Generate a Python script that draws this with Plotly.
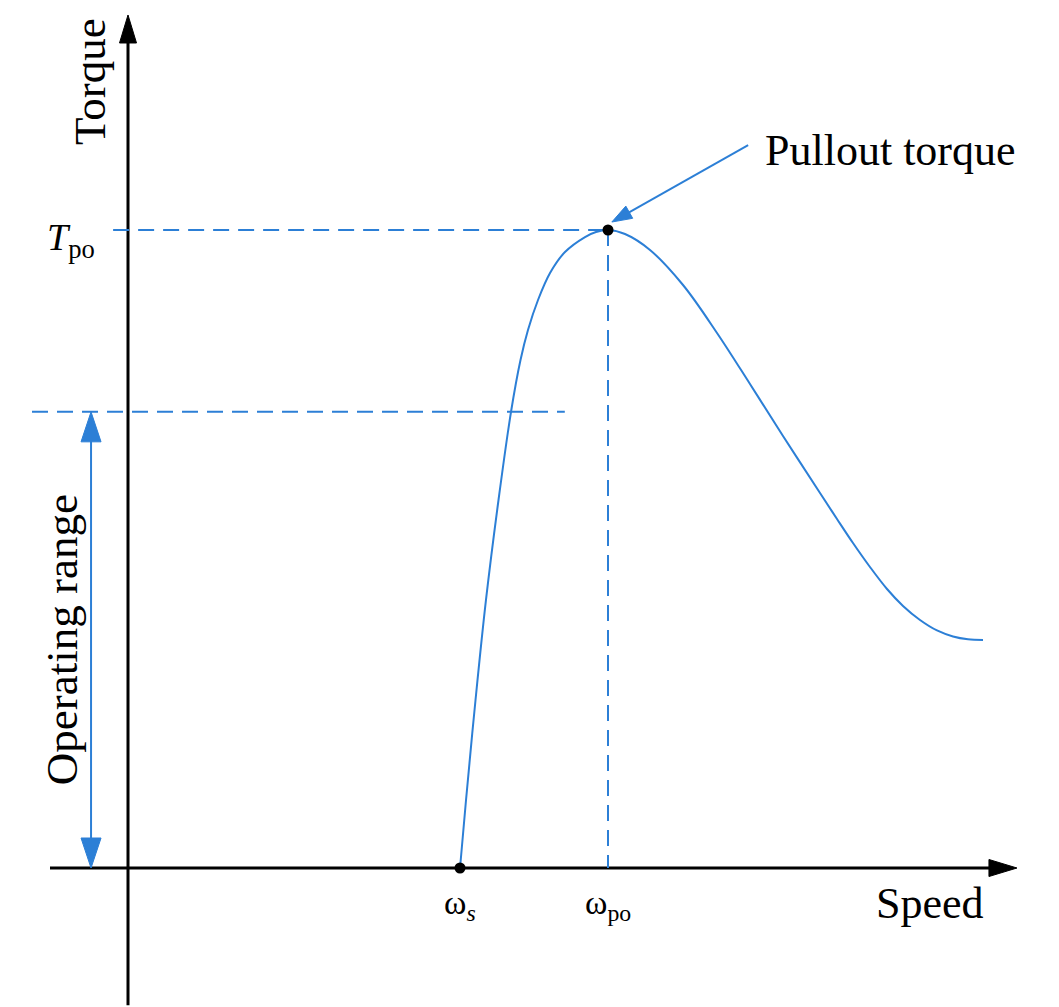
import plotly.graph_objects as go

# ---------------- data (normalised units: speed / omega_po, torque / T_po) ----------------
speed = [0.6917, 0.7042, 0.7240, 0.7458, 0.7719, 0.7979, 0.8177, 0.8333, 0.8542, 0.8792,
         0.9104, 0.9521, 0.9750, 1.0,
         1.0354, 1.0875, 1.1563, 1.2271, 1.2958, 1.3646, 1.4417, 1.4771, 1.5104, 1.5458,
         1.5813, 1.6146, 1.65, 1.6854, 1.7188, 1.75, 1.7813]
torque = [0.0, 0.1066, 0.2633, 0.4201, 0.5768, 0.7147, 0.7962, 0.8433, 0.8903, 0.9326,
          0.9655, 0.9890, 0.9969, 1.0,
          0.9937, 0.9687, 0.9138, 0.8386, 0.7586, 0.6771, 0.5878, 0.5470, 0.5094, 0.4718,
          0.4373, 0.4107, 0.3887, 0.3723, 0.3629, 0.3585, 0.3574]

omega_s = 0.6917
omega_po = 1.0
T_po = 1.0
op_range_top = 0.715

# axis extents
x_axis_ext = [-0.1625, 1.852]
y_axis_ext = [-0.215, 1.337]

# ---------------- layout geometry ----------------
W, H = 1059, 1007
PX_X, PX_Y = 480.0, 638.0          # pixels per unit
X_RANGE = [-128 / PX_X, (W - 128) / PX_X]
Y_RANGE = [-(H - 868) / PX_Y, 868 / PX_Y]

BLUE = "#2c7fd6"
BLACK = "#000000"
FONT = "Liberation Serif"


def arrowhead(tip, base_from, length, width):
    """triangle polygon (data coords) with tip at `tip`, pointing away from base_from"""
    tx, ty = tip[0] * PX_X, tip[1] * PX_Y
    bx, by = base_from[0] * PX_X, base_from[1] * PX_Y
    dx, dy = tx - bx, ty - by
    n = (dx * dx + dy * dy) ** 0.5
    ux, uy = dx / n, dy / n
    px_, py_ = -uy, ux
    cx, cy = tx - ux * length, ty - uy * length
    pts = [(tx, ty), (cx + px_ * width / 2, cy + py_ * width / 2),
           (cx - px_ * width / 2, cy - py_ * width / 2), (tx, ty)]
    return [p[0] / PX_X for p in pts], [p[1] / PX_Y for p in pts]


fig = go.Figure()


def line(xs, ys, color, width, dash=None):
    fig.add_trace(go.Scatter(x=xs, y=ys, mode="lines", hoverinfo="skip",
                             line=dict(color=color, width=width, dash=dash)))


def head(tip, frm, length, width, color):
    hx, hy = arrowhead(tip, frm, length, width)
    fig.add_trace(go.Scatter(x=hx, y=hy, mode="lines", fill="toself", fillcolor=color,
                             line=dict(color=color, width=1), hoverinfo="skip"))


# axes
line([0, 0], [y_axis_ext[0], y_axis_ext[1] - 20 / PX_Y], BLACK, 3)
head((0, y_axis_ext[1]), (0, 0), 28, 17, BLACK)
line([x_axis_ext[0], x_axis_ext[1] - 20 / PX_X], [0, 0], BLACK, 3)
head((x_axis_ext[1], 0), (0, 0), 28, 17, BLACK)

# dashed guides
DASH = "16px,9px"
line([-0.031, omega_po], [T_po, T_po], BLUE, 2, DASH)
line([omega_po, omega_po], [T_po, 0], BLUE, 2, DASH)
line([-0.2, 0.910], [op_range_top, op_range_top], BLUE, 2, DASH)

# operating range double arrow
op_x = -0.077
line([op_x, op_x], [op_range_top - 20 / PX_Y, 20 / PX_Y], BLUE, 2)
head((op_x, op_range_top), (op_x, 0), 30, 20, BLUE)
head((op_x, 0), (op_x, op_range_top), 30, 20, BLUE)

# torque-speed curve
fig.add_trace(go.Scatter(x=speed, y=torque, mode="lines",
                         line=dict(color=BLUE, width=2, shape="spline", smoothing=1.0),
                         hoverinfo="skip"))

# points
fig.add_trace(go.Scatter(x=[omega_s, omega_po], y=[0, T_po], mode="markers",
                         marker=dict(color=BLACK, size=11), hoverinfo="skip"))

# pullout arrow
p_from = (1.292, 1.133)
p_tip = (1.008, 1.0125)
line([p_from[0], p_tip[0] + (p_from[0] - p_tip[0]) * 0.12], [p_from[1], p_tip[1] + (p_from[1] - p_tip[1]) * 0.12],
     BLUE, 2)
head(p_tip, p_from, 20, 14, BLUE)

ann = []


def text(x, y, s, size, angle=0, xanchor="center", yanchor="middle"):
    ann.append(dict(x=x, y=y, xref="x", yref="y", text=s, showarrow=False, textangle=angle,
                    xanchor=xanchor, yanchor=yanchor, font=dict(family=FONT, size=size, color=BLACK)))


text(-0.079, 1.232, "Torque", 45, angle=-90)
text(-0.064, 0.985, "<i>T</i><sub>po</sub>", 38, xanchor="right")
text(-0.1375, 0.357, "Operating range", 45, angle=-90)
text(1.323, 1.124, "Pullout torque", 44, xanchor="left")
text(omega_s, -0.058, "ω<sub><i>s</i></sub>", 34)
text(omega_po, -0.058, "ω<sub>po</sub>", 34)
text(1.671, -0.055, "Speed", 44)

fig.update_layout(
    width=W, height=H, margin=dict(l=0, r=0, t=0, b=0),
    paper_bgcolor="white", plot_bgcolor="white", showlegend=False,
    xaxis=dict(range=X_RANGE, visible=False, fixedrange=True),
    yaxis=dict(range=Y_RANGE, visible=False, fixedrange=True),
    annotations=ann,
)

fig.write_html("out.html")
